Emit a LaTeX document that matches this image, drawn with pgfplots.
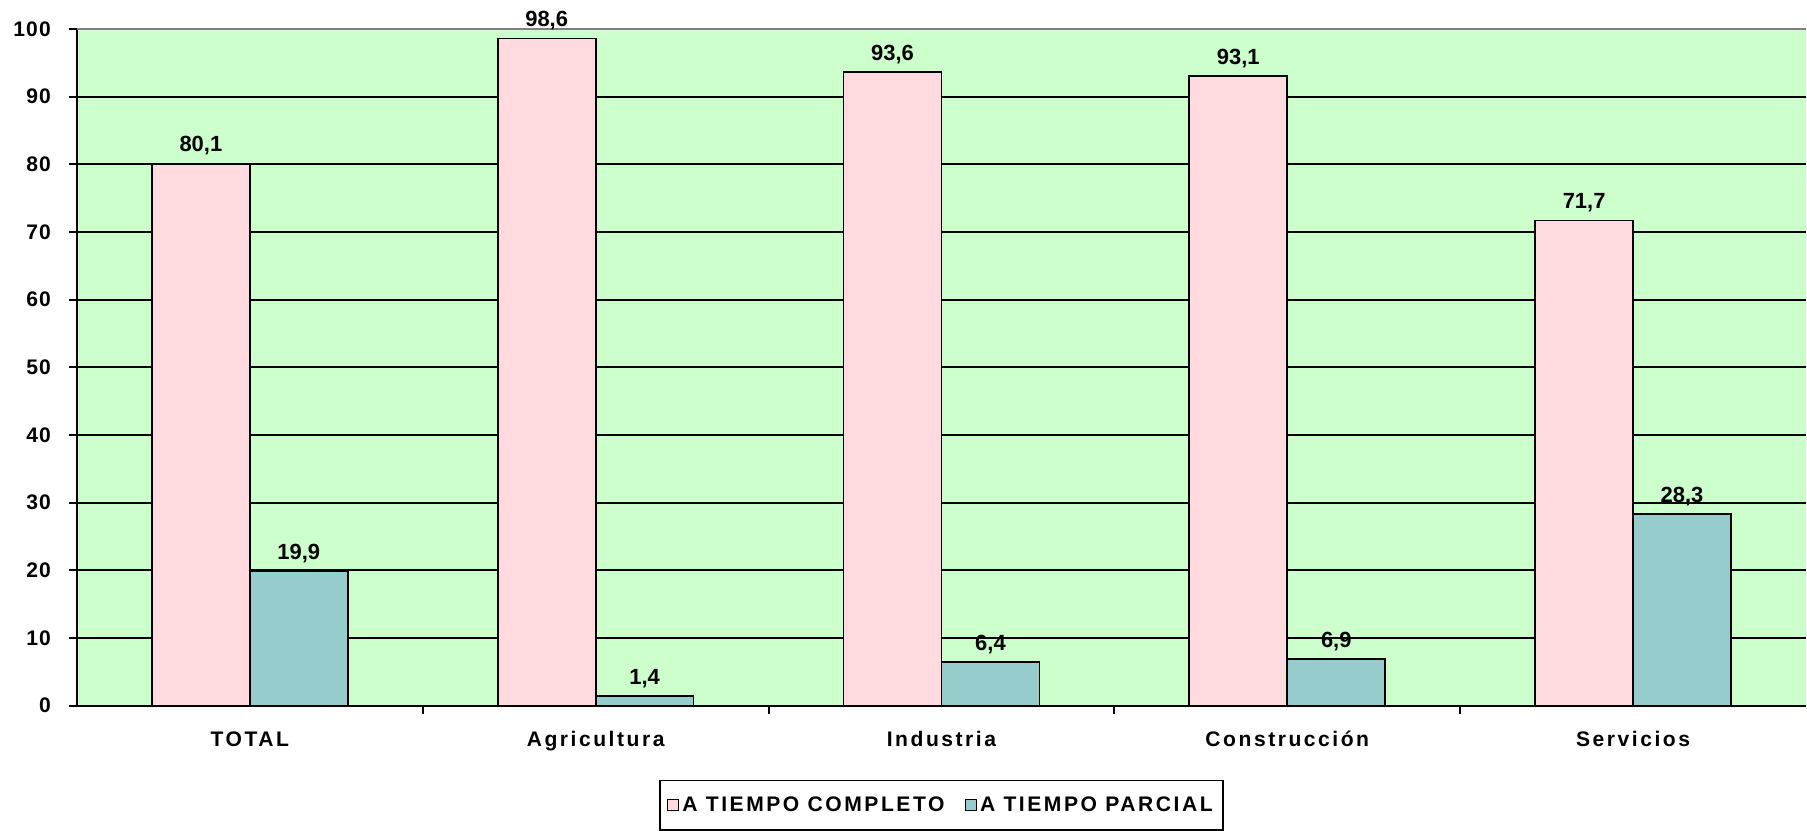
\documentclass[border=0pt]{standalone}
\usepackage{fontspec}
\setmainfont{Liberation Sans}
\usepackage{pgfplots}
\pgfplotsset{compat=1.18}
\definecolor{bggreen}{RGB}{204,255,204}
\definecolor{pinkbar}{RGB}{255,218,222}
\definecolor{tealbar}{RGB}{150,204,204}
\newcommand{\wide}{\addfontfeatures{LetterSpace=12}}
\begin{document}
\begin{tikzpicture}
\useasboundingbox (-1.54cm,-2.5cm) rectangle (34.62cm,14.12cm);
\begin{axis}[
    at={(0,0)}, anchor=south west,
    scale only axis, width=34.6cm, height=13.54cm,
    ybar=0pt, bar width=19.6mm,
    xmin=-0.5, xmax=4.5, ymin=0, ymax=100,
    axis lines=left, axis line style={line width=1.1pt,-},
    axis background/.style={fill=bggreen},
    ytick={0,10,...,100},
    ymajorgrids, grid style={line width=1pt,black},
    xtick={0,1,2,3,4},
    xticklabels={TOTAL,Agricultura,Industria,Construcción,Servicios},
    x tick label style={font=\fontsize{12}{14}\selectfont\bfseries\wide, yshift=-2.4mm},
    y tick label style={font=\fontsize{12}{14}\selectfont\bfseries\addfontfeatures{LetterSpace=5}, xshift=-2.5mm},
    /pgf/number format/assume math mode=true,
    xtick style={draw=none},
    ytick style={line width=1.1pt,black},
    tick align=outside, major tick length=1.5mm,
    extra x ticks={0.5,1.5,2.5,3.5},
    extra x tick labels={},
    extra x tick style={xtick style={draw=black,line width=1.1pt}, major tick length=1.6mm},
    nodes near coords={\pgfmathprintnumber[fixed,fixed zerofill,precision=1,use comma]{\pgfplotspointmeta}},
    nodes near coords style={font=\fontsize{12.5}{14}\selectfont\bfseries, yshift=0.3mm},
    legend columns=2,
    legend style={at={(0.5,-0.147)}, anchor=center, draw=black, line width=1pt,
        font=\fontsize{12}{14}\selectfont\bfseries\wide,
        nodes={inner xsep=0.6mm},
        /tikz/every even column/.append style={column sep=3.5mm},
        inner xsep=1.5mm, inner ysep=2.5mm},
    legend image code/.code={\draw[#1, line width=0.6pt] (0cm,-0.11cm) rectangle (0.22cm,0.11cm);},
]
\addplot[fill=pinkbar, draw=black, line width=1pt] coordinates {(0,80.1) (1,98.6) (2,93.6) (3,93.1) (4,71.7)};
\addlegendentry{A TIEMPO COMPLETO}
\addplot[fill=tealbar, draw=black, line width=1pt] coordinates {(0,19.9) (1,1.4) (2,6.4) (3,6.9) (4,28.3)};
\addlegendentry{A TIEMPO PARCIAL}
\draw[gray, line width=1pt] (rel axis cs:0,1) -- (rel axis cs:1,1);
\end{axis}
\end{tikzpicture}
\end{document}
